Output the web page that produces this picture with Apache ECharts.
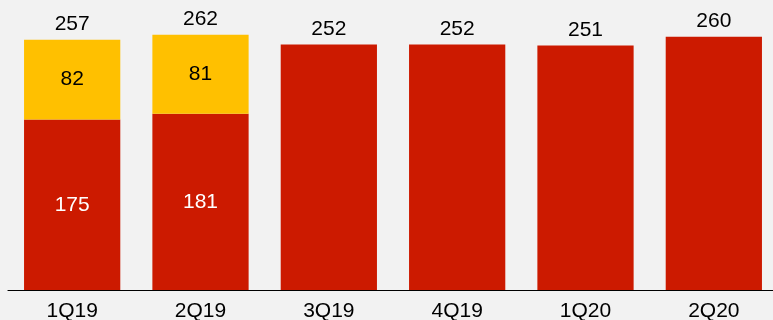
<!DOCTYPE html>
<html>
<head>
<meta charset="utf-8">
<script src="https://cdn.jsdelivr.net/npm/echarts@6/dist/echarts.min.js"></script>
<style>
html,body{margin:0;padding:0;background:#f2f2f2;overflow:hidden;}
#chart{width:780px;height:320px;}
</style>
</head>
<body>
<div id="chart"></div>
<script>
var categories = ['1Q19','2Q19','3Q19','4Q19','1Q20','2Q20'];
var redValues = [175,181,252,252,251,260];
var yellowValues = [82,81,null,null,null,null];
var totals = [257,262,252,252,251,260];

var chart = echarts.init(document.getElementById('chart'));
var font = 'Liberation Sans, Arial, sans-serif';

var redData = redValues.map(function(v,i){
  return {value:v, label:{show: yellowValues[i] != null}};
});
var totalData = totals.map(function(){ return 0; });

chart.setOption({
  backgroundColor:'#f2f2f2',
  animation:false,
  grid:{left:8, width:770, top:17.3, bottom:30, containLabel:false, outerBoundsMode:'none'},
  xAxis:{
    type:'category', data:categories,
    axisLine:{show:true, lineStyle:{color:'#000', width:1.2}},
    axisTick:{show:false},
    axisLabel:{color:'#000', fontSize:21, fontFamily:font, margin:11}
  },
  yAxis:{type:'value', min:0, max:280, show:false, splitLine:{show:false}},
  series:[
    {type:'bar', stack:'a', data:redData, barWidth:'75%',
     itemStyle:{color:'#cc1a00'},
     label:{position:'inside', color:'#fff', fontSize:21, fontFamily:font}},
    {type:'bar', stack:'a', data:yellowValues,
     itemStyle:{color:'#ffc000'},
     label:{show:true, position:'inside', color:'#000', fontSize:21, fontFamily:font}},
    {type:'bar', stack:'a', data:totalData,
     itemStyle:{color:'transparent'},
     label:{show:true, position:'top', distance:5, color:'#000', fontSize:21, fontFamily:font,
       formatter:function(p){return totals[p.dataIndex];}}}
  ]
});
</script>
</body>
</html>
